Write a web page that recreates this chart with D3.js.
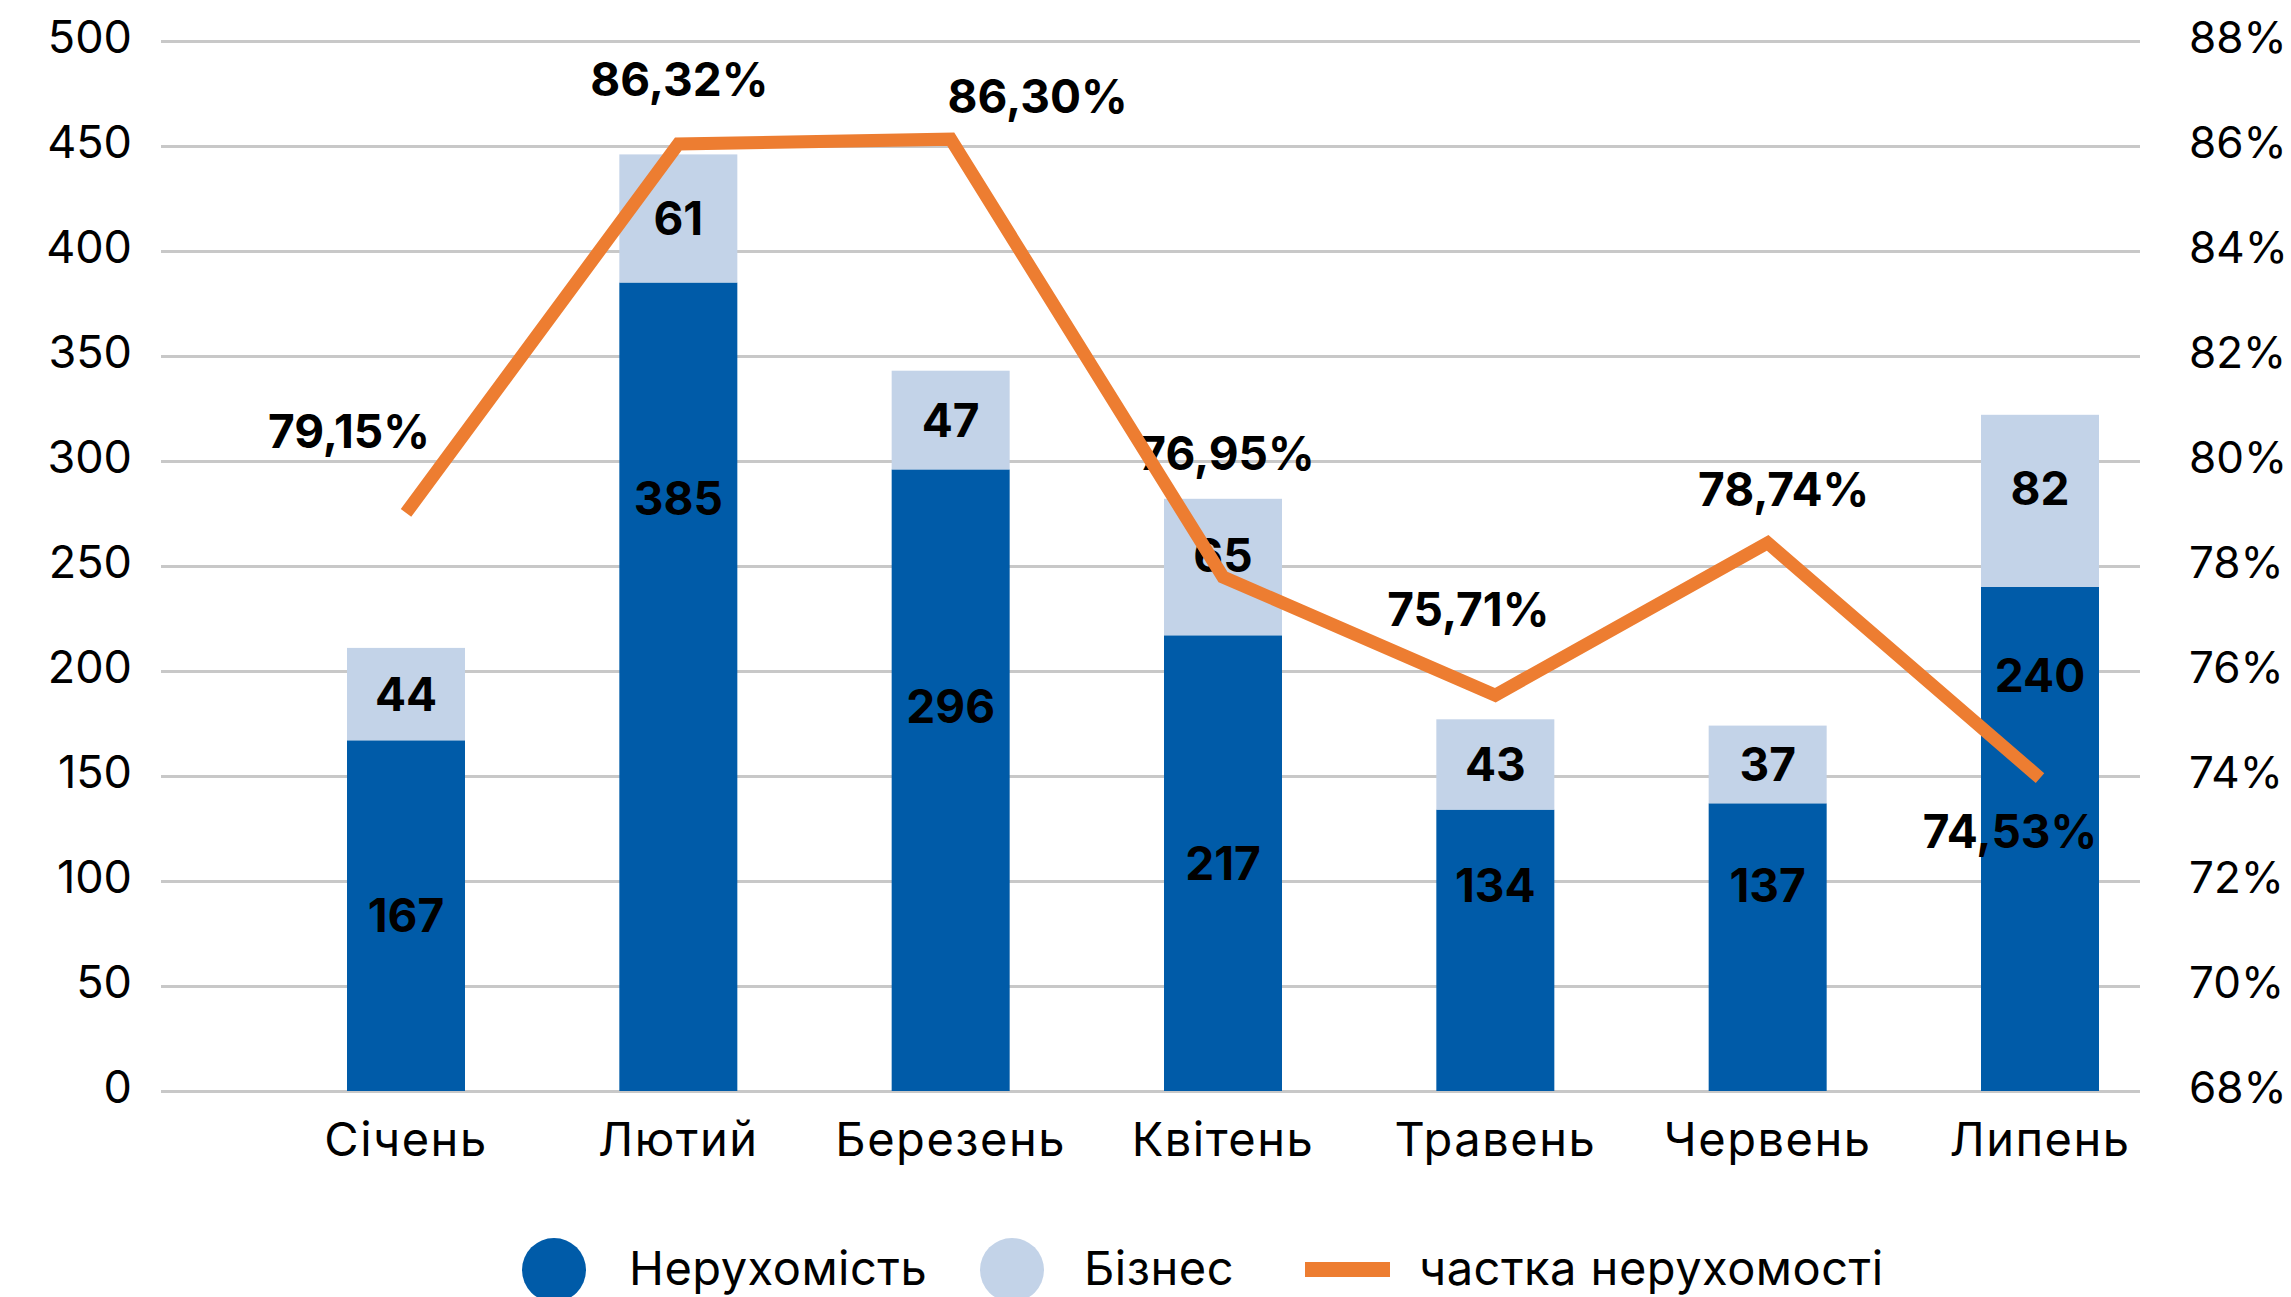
<!DOCTYPE html>
<html>
<head>
<meta charset="utf-8">
<script src="https://cdn.jsdelivr.net/npm/d3@7"></script>
<style>
  body { margin: 0; background: #fff; }
  text { font-family: Inter, "Noto Sans", sans-serif; fill: #000; }
</style>
</head>
<body>
<div id="chart"></div>
<script>
// data
const months = ['Січень', 'Лютий', 'Березень', 'Квітень', 'Травень', 'Червень', 'Липень'];
const realEstate = [167, 385, 296, 217, 134, 137, 240];
const business = [44, 61, 47, 65, 43, 37, 82];
// share line as plotted, and the labels printed next to it
const share = [79.01, 86.04, 86.13, 77.79, 75.54, 78.44, 73.96];
const shareLabels = ['79,15%', '86,32%', '86,30%', '76,95%', '75,71%', '78,74%', '74,53%'];
const leftTicks = [0, 50, 100, 150, 200, 250, 300, 350, 400, 450, 500];
const rightTicks = [68, 70, 72, 74, 76, 78, 80, 82, 84, 86, 88];
const legendItems = ['Нерухомість', 'Бізнес', 'частка нерухомості'];

// label nudges (px), as placed in the original
const darkLabelDy = [0, -188, -74, 0, -65, -62, -164];
const lightLabelDy = [0, 0, 0, -12, 0, 0, -12];
const shareLabelOffset = [[-57, -82], [1, -64], [87, -43], [4, -124], [-27, -86], [16, -53], [-30, 53]];

const W = 2291, H = 1297;
const colors = { dark: '#005BA8', light: '#C3D3E8', line: '#ED7D31', grid: '#C8C8C8' };
const gridLeft = 161, gridRight = 2140;
const barWidth = 118;

const svg = d3.select('#chart').append('svg')
    .attr('width', W)
    .attr('height', H);

const x = d3.scalePoint().domain(months).range([406, 2040]);
const y = d3.scaleLinear().domain([0, 500]).range([1091, 41]);
const y2 = d3.scaleLinear().domain([68, 88]).range([1091, 41]);

// gridlines
const grid = svg.append('g')
    .attr('transform', `translate(${gridLeft},0)`)
    .call(d3.axisRight(y).tickValues(leftTicks).tickSize(gridRight - gridLeft).tickFormat(''));
grid.select('.domain').remove();
grid.selectAll('line').attr('stroke', colors.grid).attr('stroke-width', 3);

// left axis
const yAxis = svg.append('g')
    .attr('transform', 'translate(132,0)')
    .call(d3.axisLeft(y).tickValues(leftTicks).tickSize(0).tickPadding(0));
yAxis.select('.domain').remove();
yAxis.selectAll('text')
    .style('font-size', '45px')
    .attr('dy', '0.32em')
    .attr('y', -3)
    .attr('fill', '#000');

// right axis
const y2Axis = svg.append('g')
    .attr('transform', 'translate(2189,0)')
    .call(d3.axisRight(y2).tickValues(rightTicks).tickSize(0).tickPadding(0).tickFormat(d => d + '%'));
y2Axis.select('.domain').remove();
y2Axis.selectAll('text')
    .style('font-size', '44px')
    .attr('dy', '0.32em')
    .attr('y', -3)
    .attr('fill', '#000');

// month labels
svg.append('g').selectAll('text')
    .data(months)
    .join('text')
    .attr('x', d => x(d))
    .attr('y', 1156)
    .attr('text-anchor', 'middle')
    .style('font-size', '47px')
    .style('letter-spacing', '1.5px')
    .text(d => d);

// stacked bars
const bars = svg.append('g');
bars.selectAll('.dark')
    .data(months)
    .join('rect')
    .attr('class', 'dark')
    .attr('x', d => x(d) - barWidth / 2)
    .attr('width', barWidth)
    .attr('y', (d, i) => y(realEstate[i]))
    .attr('height', (d, i) => y(0) - y(realEstate[i]))
    .attr('fill', colors.dark);

bars.selectAll('.light')
    .data(months)
    .join('rect')
    .attr('class', 'light')
    .attr('x', d => x(d) - barWidth / 2)
    .attr('width', barWidth)
    .attr('y', (d, i) => y(realEstate[i] + business[i]))
    .attr('height', (d, i) => y(realEstate[i]) - y(realEstate[i] + business[i]))
    .attr('fill', colors.light);

// bar labels
const labels = svg.append('g')
    .style('font-size', '46px')
    .style('font-weight', 700)
    .attr('text-anchor', 'middle');

labels.selectAll('.dl')
    .data(months)
    .join('text')
    .attr('class', 'dl')
    .attr('x', d => x(d))
    .attr('y', (d, i) => y(realEstate[i] / 2) + darkLabelDy[i])
    .attr('dy', '0.36em')
    .text((d, i) => realEstate[i]);

labels.selectAll('.ll')
    .data(months)
    .join('text')
    .attr('class', 'll')
    .attr('x', d => x(d))
    .attr('y', (d, i) => y(realEstate[i] + business[i] / 2) + lightLabelDy[i])
    .attr('dy', '0.36em')
    .text((d, i) => business[i]);

// share line
const line = d3.line()
    .x((d, i) => x(months[i]))
    .y(d => y2(d));

svg.append('path')
    .datum(share)
    .attr('d', line)
    .attr('fill', 'none')
    .attr('stroke', colors.line)
    .attr('stroke-width', 13)
    .attr('stroke-linejoin', 'miter');

labels.selectAll('.sl')
    .data(share)
    .join('text')
    .attr('class', 'sl')
    .attr('x', (d, i) => x(months[i]) + shareLabelOffset[i][0])
    .attr('y', (d, i) => y2(d) + shareLabelOffset[i][1])
    .attr('dy', '0.36em')
    .text((d, i) => shareLabels[i]);

// legend
const legend = svg.append('g').style('font-size', '47px').style('letter-spacing', '0.5px');
const legendY = 1270;

legend.append('circle').attr('cx', 554).attr('cy', legendY).attr('r', 32).attr('fill', colors.dark);
legend.append('text').attr('x', 629).attr('y', legendY + 15).text(legendItems[0]);

legend.append('circle').attr('cx', 1012).attr('cy', legendY).attr('r', 32).attr('fill', colors.light);
legend.append('text').attr('x', 1084).attr('y', legendY + 15).text(legendItems[1]);

legend.append('rect').attr('x', 1305).attr('y', legendY - 8).attr('width', 85).attr('height', 15).attr('fill', colors.line);
legend.append('text').attr('x', 1419).attr('y', legendY + 15).text(legendItems[2]);
</script>
</body>
</html>
